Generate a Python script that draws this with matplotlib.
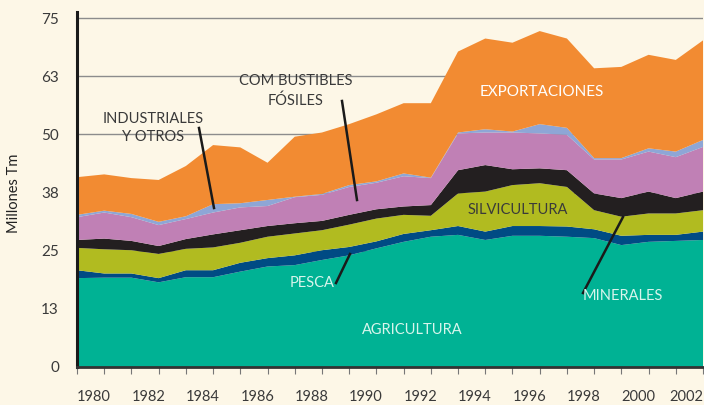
import matplotlib.pyplot as plt

# Millones de toneladas, 1980-2003
years = list(range(1980, 2004))
agricultura = [19.1, 19.2, 19.2, 18.2, 19.3, 19.3, 20.5, 21.6, 21.9, 23.0, 24.0, 25.5,
               26.9, 28.0, 28.4, 27.3, 28.2, 28.2, 28.0, 27.7, 26.2, 26.9, 27.1, 27.3]
pesca = [1.7, 0.9, 0.9, 0.9, 1.5, 1.5, 1.9, 1.8, 2.1, 2.1, 1.8, 1.5,
         1.7, 1.4, 1.9, 1.8, 2.1, 2.1, 2.2, 1.9, 2.0, 1.5, 1.3, 1.8]
silvicultura = [4.8, 5.2, 5.0, 5.2, 4.6, 4.9, 4.3, 4.6, 4.7, 4.3, 4.8, 4.9,
                4.1, 3.1, 7.0, 8.6, 8.8, 9.2, 8.5, 4.1, 4.1, 4.6, 4.6, 4.6]
minerales = [1.7, 2.3, 2.0, 1.7, 2.1, 2.8, 2.7, 2.3, 2.2, 2.0, 2.1, 2.0,
             1.8, 2.3, 5.0, 5.7, 3.4, 3.2, 3.6, 3.6, 4.0, 4.7, 3.3, 4.0]
combustibles = [4.9, 5.6, 5.1, 4.5, 4.3, 4.7, 4.9, 4.3, 5.6, 5.6, 6.0, 5.7,
                6.5, 5.8, 7.9, 7.0, 7.9, 7.5, 7.6, 7.3, 8.3, 8.6, 8.8, 9.6]
industriales = [0.5, 0.4, 0.7, 0.7, 0.6, 1.8, 0.9, 1.3, 0.1, 0.2, 0.4, 0.3,
                0.6, 0.1, 0.2, 0.7, 0.2, 2.0, 1.5, 0.3, 0.3, 0.7, 1.2, 1.5]
exportaciones = [8.1, 7.8, 7.7, 9.0, 10.8, 12.7, 12.0, 8.0, 12.9, 13.2, 13.1, 14.4,
                 15.1, 16.0, 17.4, 19.5, 19.1, 20.0, 19.2, 19.3, 19.6, 20.1, 19.7, 21.4]

ytick_vals = [0, 12.5, 25, 37.5, 50, 62.5, 75]
ytick_labels = ['0', '13', '25', '38', '50', '63', '75']

colors = ['#00B294', '#004B84', '#B1BB20', '#231F20', '#C080B5', '#8EA6D6', '#F28B32']
bg = '#FDF7E7'
txt = '#3a3a3a'

plt.rcParams['font.family'] = ['Lato', 'DejaVu Sans']

fig = plt.figure(figsize=(7.04, 4.05), dpi=100, facecolor=bg)
ax = fig.add_axes([77 / 704, 38 / 405, 626 / 704, 355 / 405])
ax.set_facecolor(bg)

ax.stackplot(years, agricultura, pesca, silvicultura, minerales, combustibles,
             industriales, exportaciones, colors=colors, linewidth=0, zorder=2)

ax.set_xlim(1980, 2003)
ax.set_ylim(0, 76.3)

for v in ytick_vals[1:]:
    ax.axhline(v, color='#8c8c8c', lw=1, zorder=1)

ax.set_yticks(ytick_vals)
ax.set_yticklabels(ytick_labels, fontsize=11, color=txt)
ax.tick_params(axis='y', length=0, pad=13)

# year ticks; labels start at their tick (last one kept inside the figure)
ax.set_xticks(years)
ax.set_xticklabels([])
ax.tick_params(axis='x', length=5, color='#777777')
for y in years:
    if y % 2 == 0:
        last = y == years[-2]
        ax.text(years[-1] if last else y, -0.085, str(y), transform=ax.get_xaxis_transform(),
                ha='right' if last else 'left', va='center', fontsize=10.5, color=txt)

ax.set_ylabel('Millones Tm', fontsize=10.5, color='#222222')
ax.yaxis.set_label_coords(-0.0895, 0.49)

for s in ['top', 'right']:
    ax.spines[s].set_visible(False)
ax.spines['left'].set_color('#1a1a1a')
ax.spines['left'].set_linewidth(2.2)
ax.spines['left'].set_zorder(5)
ax.spines['bottom'].set_color('#333333')
ax.spines['bottom'].set_linewidth(2)
ax.spines['bottom'].set_zorder(5)


def px(x, y):
    # pixel position in the figure -> data coordinates
    return ax.transData.inverted().transform(fig.transFigure.transform((x / 704, 1 - y / 405)))


def pointer(p0, p1):
    a, b = px(*p0), px(*p1)
    ax.plot([a[0], b[0]], [a[1], b[1]], color='#1a1a1a', lw=1.8, zorder=6, clip_on=False)


def label(x, y, s, color, size=10.5):
    fig.text(x / 704, 1 - y / 405, s, ha='center', va='center', fontsize=size,
             color=color, linespacing=1.45, zorder=7)


label(153, 128, 'INDUSTRIALES\nY OTROS', txt)
pointer((199, 128), (214, 208))
label(296, 91, 'COM BUSTIBLES\nFÓSILES', txt)
pointer((342, 101), (357, 200))
label(542, 92, 'EXPORTACIONES', 'white', 11)
label(518, 210, 'SILVICULTURA', txt)
label(312, 283, 'PESCA', '#D8F5EC')
pointer((336, 283), (350, 254))
label(412, 330, 'AGRICULTURA', '#D8F5EC')
label(623, 296, 'MINERALES', '#D8F5EC')
pointer((583, 293), (623, 217))

fig.savefig('out.png', dpi=100, facecolor=bg)
